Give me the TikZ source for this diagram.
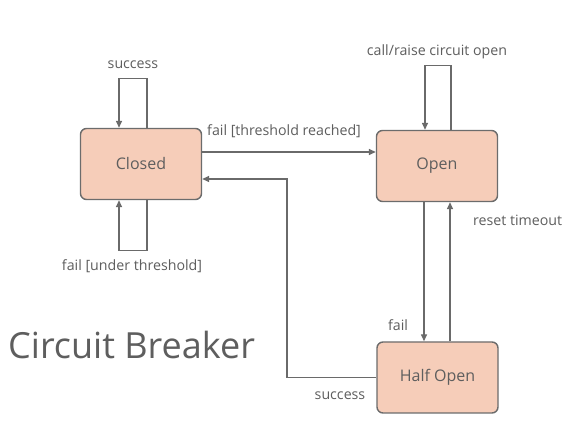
\documentclass[tikz,border=0pt]{standalone}
\usepackage{fontspec}
\setmainfont{Open Sans}
\usetikzlibrary{arrows.meta}
\definecolor{boxfill}{HTML}{F6CDB9}
\definecolor{boxline}{HTML}{6C6C6C}
\definecolor{txt}{HTML}{5E5E5E}
\definecolor{wire}{HTML}{6A6A6A}
\begin{document}
\begin{tikzpicture}[x=1pt,y=1pt,
  state/.style={draw=boxline,line width=1.4pt,fill=boxfill,rounded corners=6pt,
    minimum width=121pt,minimum height=71pt,text=txt,font=\fontsize{16}{19}\selectfont,inner sep=0pt},
  lbl/.style={text=txt,font=\fontsize{14.2}{16}\selectfont,inner sep=0pt},
  conn/.style={draw=wire,line width=1.4pt,-{Triangle[length=7pt,width=6pt]}}]
\useasboundingbox (0,0) rectangle (567,433);
\fill[white] (0,0) rectangle (567,433);
\node[state] (closed) at (141,269) {Closed};
\node[state] (open) at (437,267) {Open};
\node[state] (half) at (437.5,55.5) {Half Open};
% self loops
\draw[conn] ([xshift=6pt]closed.north) -- ++(0,49.5) -| ([xshift=-22pt]closed.north);
\draw[conn] ([xshift=6pt]closed.south) -- ++(0,-50.5) -| ([xshift=-22pt]closed.south);
\draw[conn] ([xshift=14pt]open.north) -- ++(0,64) -| ([xshift=-12pt]open.north);
% transitions
\draw[conn] ([yshift=12pt]closed.east) coordinate (t1) -- (t1 -| open.west);
\draw[conn] (half.west) -- ++(-89.5,0) |- ([yshift=-15pt]closed.east);
\draw[conn] ([xshift=-13pt]open.south) -- ([xshift=-13.5pt]half.north);
\draw[conn] ([xshift=12.5pt]half.north) -- ([xshift=13pt]open.south);
% labels
\node[lbl] (l1) at (133,368) {success};
\node[lbl] (l2) at (132,167) {fail [under threshold]};
\node[lbl] (l3) at (437,381) {call/raise circuit open};
\node[lbl,anchor=west] (l4) at (207,302) {fail [threshold reached]};
\node[lbl,anchor=west] (l5) at (473,213) {reset timeout};
\node[lbl] (l6) at (398,108) {fail};
\node[lbl] (l7) at (340,37) {success};
\node[text=txt,font=\fontsize{36}{42}\selectfont,anchor=west,inner sep=0pt] (title) at (8,88) {Circuit Breaker};
\end{tikzpicture}
\end{document}
